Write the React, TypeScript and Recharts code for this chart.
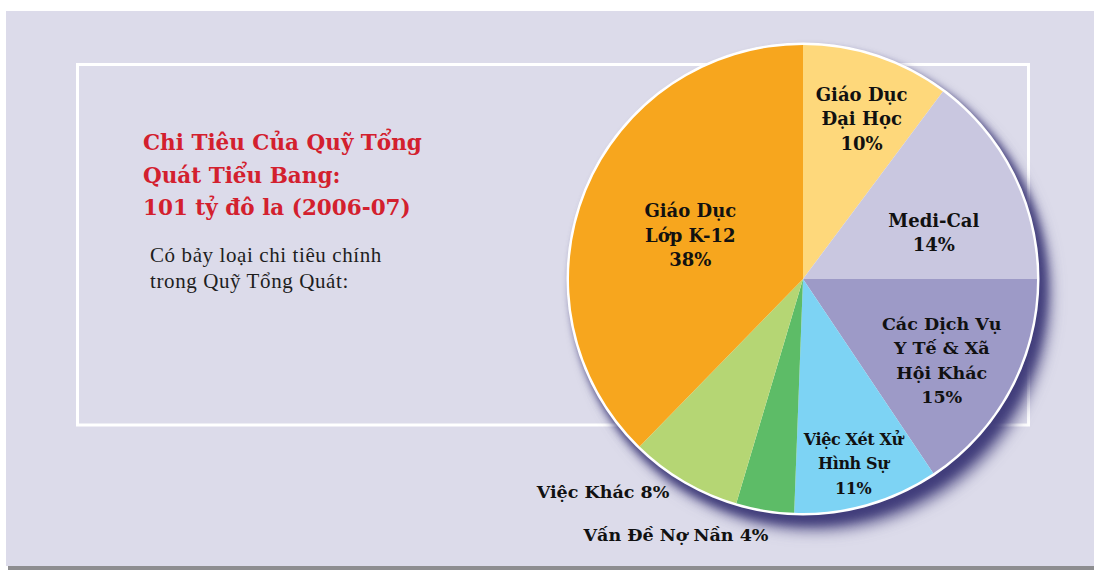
import React from "react";
import { PieChart, Pie, Cell } from "recharts";

const NAMES = [
  "Giáo Dục Đại Học",
  "Medi-Cal",
  "Các Dịch Vụ Y Tế & Xã Hội Khác",
  "Việc Xét Xử Hình Sự",
  "Vấn Đề Nợ Nần",
  "Việc Khác",
  "Giáo Dục Lớp K-12",
];
// slice shares as drawn in the picture (percent of 101 tỷ)
const SHARES = [10.2, 14.8, 15.6, 10.0, 4.0, 7.7, 37.7];
const LABEL_LINES = [
  ["Giáo Dục", "Đại Học", "10%"],
  ["Medi-Cal", "14%"],
  ["Các Dịch Vụ", "Y Tế & Xã", "Hội Khác", "15%"],
  ["Việc Xét Xử", "Hình Sự", "11%"],
  ["Vấn Đề Nợ Nần 4%"],
  ["Việc Khác 8%"],
  ["Giáo Dục", "Lớp K-12", "38%"],
];
const COLORS = ["#fed87b", "#c9c7e0", "#9d9ac7", "#7dd3f4", "#5dbc67", "#b5d674", "#f7a61e"];

const TITLE = ["Chi Tiêu Của Quỹ Tổng", "Quát Tiểu Bang:", "101 tỷ đô la (2006-07)"];
const BODY = ["Có bảy loại chi tiêu chính", "trong Quỹ Tổng Quát:"];

// label placement: distance from centre and angle nudge from the slice middle
const LABEL_R = [171, 139, 161, 191, 286, 292, 121];
const LABEL_DA = [-1.7, -6.9, -2.4, -0.6, -17, -12.8, 0.8];
const LABEL_SIZE = [18, 18, 17.5, 16, 17.5, 17.5, 18];

const W = 1094;
const H = 570;
const CX = 803;
const CY = 279;
const R = 234;
const RAD = Math.PI / 180;

const data = NAMES.map((name, i) => ({ name, value: SHARES[i], idx: i }));

function SliceLabel(props: any) {
  const { cx, cy, midAngle, index } = props;
  const a = (midAngle + LABEL_DA[index]) * RAD;
  const r = LABEL_R[index];
  const x = cx + r * Math.cos(a);
  const y = cy - r * Math.sin(a);
  const lines = LABEL_LINES[index];
  const lh = 24.5;
  const y0 = y - ((lines.length - 1) * lh) / 2;
  return (
    <text
      x={x}
      y={y0}
      textAnchor="middle"
      dominantBaseline="central"
      fontFamily="'DejaVu Serif', serif"
      fontWeight="bold"
      fontSize={LABEL_SIZE[index]}
      letterSpacing={index === 3 ? -0.4 : 0}
      fill="#111"
    >
      {lines.map((l, k) => (
        <tspan key={k} x={x} dy={k === 0 ? 0 : lh}>
          {l}
        </tspan>
      ))}
    </text>
  );
}

export default function App() {
  return (
    <div style={{ position: "absolute", left: 0, top: 0, width: W, height: H, background: "#fff" }}>
      <style>{`.pie-shadow { filter: drop-shadow(6px 8px 5px rgba(58,54,118,0.8)); }`}</style>
      <svg width={W} height={H} style={{ position: "absolute", left: 0, top: 0 }}>
        <rect x={6} y={11} width={W - 6} height={555} fill="#dcdbea" />
        <rect x={8} y={566} width={W - 8} height={4} fill="#8d8d90" />
        <rect x={77.5} y={64.5} width={951} height={360.5} fill="none" stroke="#fff" strokeWidth={3} />
        {TITLE.map((t, i) => (
          <text
            key={t}
            x={143}
            y={150 + i * 32.5}
            fontFamily="'DejaVu Serif', serif"
            fontWeight="bold"
            fontSize={21.5}
            fill="#d3202e"
          >
            {t}
          </text>
        ))}
        {BODY.map((t, i) => (
          <text
            key={t}
            x={150}
            y={262 + i * 26}
            fontFamily="'Liberation Serif', serif"
            fontSize={21}
            letterSpacing={0.6}
            fill="#1e1e1e"
          >
            {t}
          </text>
        ))}
      </svg>
      <div style={{ position: "absolute", left: 0, top: 0 }}>
        <PieChart width={W} height={H} margin={{ top: 0, right: 0, bottom: 0, left: 0 }}>
          <Pie
            data={[{ name: "ring", value: 1 }]}
            dataKey="value"
            cx={CX}
            cy={CY}
            outerRadius={R + 2.5}
            startAngle={90}
            endAngle={-270}
            fill="#fff"
            stroke="none"
            className="pie-shadow"
            isAnimationActive={false}
          />
          <Pie
            data={data}
            dataKey="value"
            nameKey="name"
            cx={CX}
            cy={CY}
            outerRadius={R}
            startAngle={90}
            endAngle={-270}
            stroke="none"
            label={SliceLabel}
            labelLine={false}
            isAnimationActive={false}
          >
            {data.map((d) => (
              <Cell key={d.name} fill={COLORS[d.idx]} />
            ))}
          </Pie>
        </PieChart>
      </div>
    </div>
  );
}
